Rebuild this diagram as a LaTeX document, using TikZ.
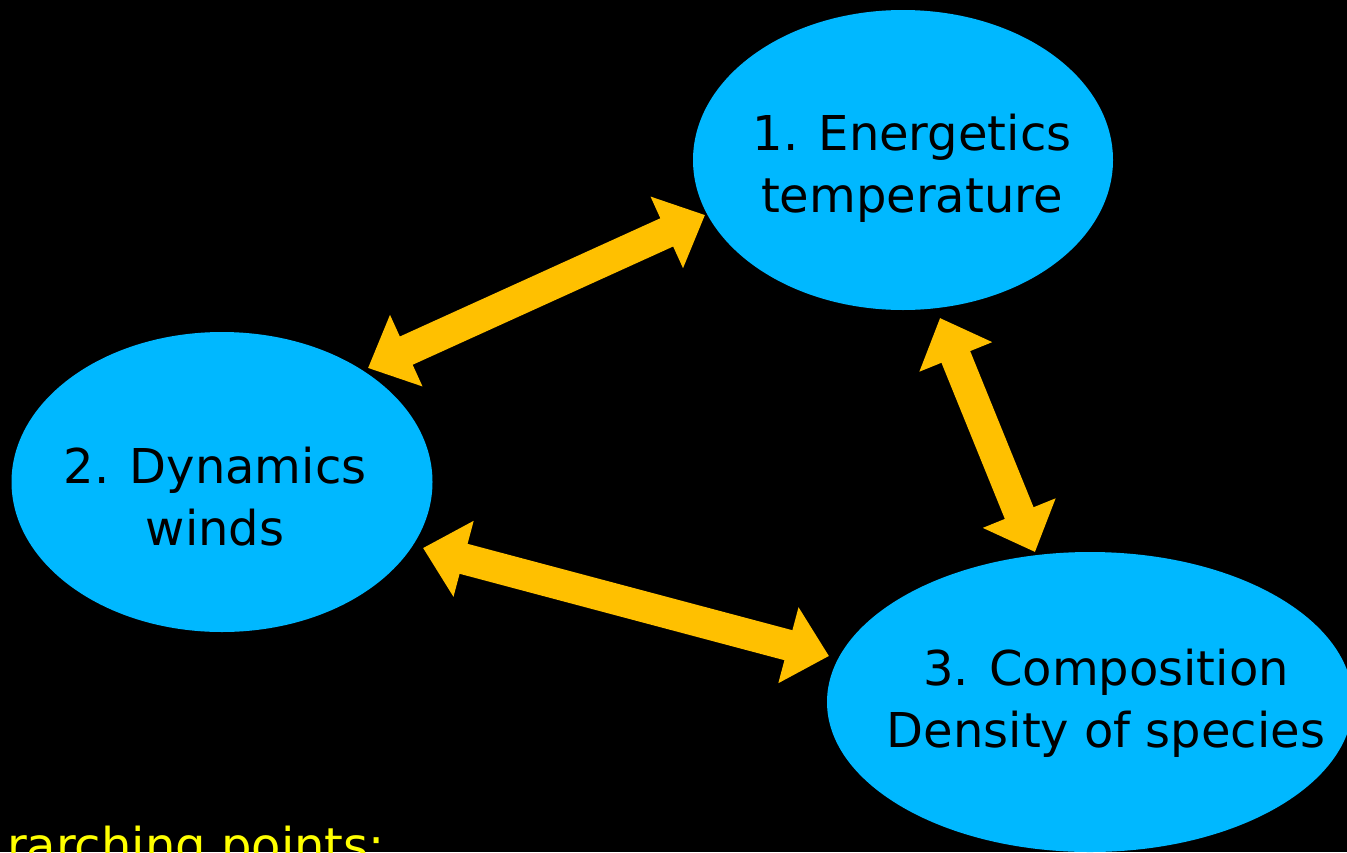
\documentclass[tikz,border=0pt]{standalone}
\usepackage{fontspec}
\setmainfont{DejaVu Sans}
\usetikzlibrary{arrows.meta,shapes.geometric}
\definecolor{bubble}{HTML}{00B8FF}
\definecolor{arrowc}{HTML}{FFC000}
\definecolor{note}{HTML}{FFFF00}
\tikzset{
  bubble/.style={ellipse, fill=bubble, draw=none, inner sep=0pt, minimum height=300pt},
  bubbletext/.style={align=center, inner sep=0pt, text=black,
    font=\fontsize{48}{62}\selectfont},
  link/.style={draw=arrowc, line width=31pt,
    {Triangle[width=76pt,length=42pt]}-{Triangle[width=76pt,length=42pt]}},
}
\begin{document}
\begin{tikzpicture}[x=1pt,y=-1pt]
\fill[black] (0,0) rectangle (1347,852);
\useasboundingbox (0,0) rectangle (1347,852);
\clip (0,0) rectangle (1347,852);
\node[bubble, minimum width=420pt] (e1) at (903,160) {};
\node[bubble, minimum width=421pt] (e2) at (222,482) {};
\node[bubble, minimum width=526pt] (e3) at (1090,702) {};
\node[bubbletext] (t1) at (912,168) {1. Energetics\\temperature};
\node[bubbletext] (t2) at (215,497) {2. Dynamics\\winds};
\node[bubbletext] (t3) at (1106,703) {3. Composition\\Density of species};
\coordinate (a1s) at (368,368);
\coordinate (a1e) at (705,215);
\coordinate (a2s) at (940,318);
\coordinate (a2e) at (1035,552);
\coordinate (a3s) at (423,548);
\coordinate (a3e) at (829,656);
\draw[link] (a1s) -- (a1e);
\draw[link] (a2s) -- (a2e);
\draw[link] (a3s) -- (a3e);
\node[anchor=base east, inner sep=0pt, text=note, font=\fontsize{48}{58}\selectfont] (pts) at (385,862) {rarching points:};
\end{tikzpicture}
\end{document}
